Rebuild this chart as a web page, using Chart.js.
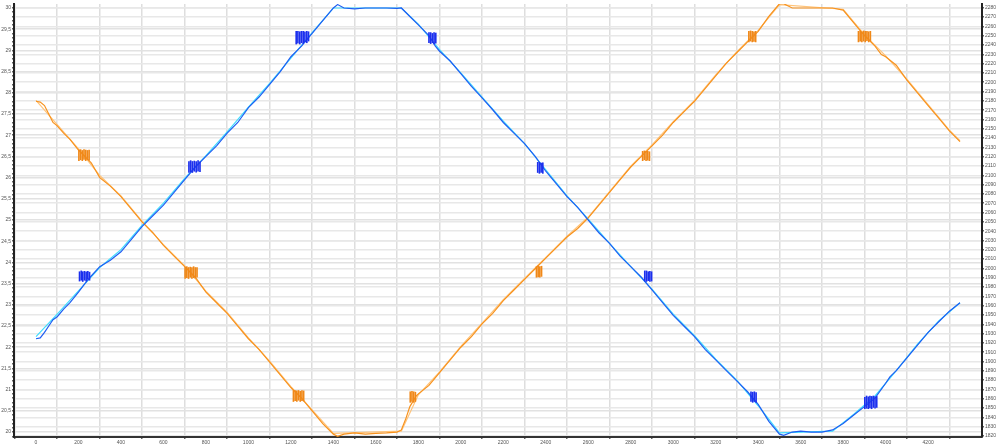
<!DOCTYPE html>
<html>
<head>
<meta charset="utf-8">
<script src="https://cdn.jsdelivr.net/npm/chart.js@4"></script>
<style>
  html, body { margin: 0; padding: 0; background: #fff; }
  #wrap { width: 999px; height: 448px; }
</style>
</head>
<body>
<div id="wrap"><canvas id="chart" width="999" height="448"></canvas></div>
<script>
// tick labels
const xTicks = [0, 200, 400, 600, 800, 1000, 1200, 1400, 1600, 1800, 2000, 2200, 2400, 2600, 2800, 3000, 3200, 3400, 3600, 3800, 4000, 4200];
const leftTicks = [20, 20.5, 21, 21.5, 22, 22.5, 23, 23.5, 24, 24.5, 25, 25.5, 26, 26.5, 27, 27.5, 28, 28.5, 29, 29.5, 30];
const rightTicks = [1820, 1830, 1840, 1850, 1860, 1870, 1880, 1890, 1900, 1910, 1920, 1930, 1940, 1950, 1960, 1970, 1980, 1990,
  2000, 2010, 2020, 2030, 2040, 2050, 2060, 2070, 2080, 2090, 2100, 2110, 2120, 2130, 2140, 2150, 2160, 2170, 2180, 2190,
  2200, 2210, 2220, 2230, 2240, 2250, 2260, 2270, 2280];

// blue series [x, value]
const blueLine = [
  [0, 22.2], [20, 22.22], [40, 22.35], [60, 22.5], [80, 22.65], [100, 22.72], [130, 22.9], [160, 23.05], [200, 23.3],
  [230, 23.5], [260, 23.68], [300, 23.9], [350, 24.05], [400, 24.25], [450, 24.55], [500, 24.85], [550, 25.1],
  [600, 25.35], [650, 25.65], [700, 25.95], [750, 26.25], [800, 26.5], [850, 26.75], [900, 27.05], [950, 27.3],
  [1000, 27.65], [1050, 27.9], [1100, 28.2], [1150, 28.5], [1200, 28.85], [1250, 29.1], [1300, 29.4], [1350, 29.7],
  [1400, 30.0], [1420, 30.08], [1450, 30.0], [1500, 29.98], [1550, 30.0], [1600, 30.0], [1650, 30.0], [1700, 29.99],
  [1720, 30.0], [1760, 29.8], [1800, 29.6], [1850, 29.35], [1880, 29.1], [1900, 28.98], [1950, 28.75], [2000, 28.45],
  [2050, 28.15], [2100, 27.88], [2150, 27.6], [2200, 27.3], [2250, 27.05], [2300, 26.8], [2350, 26.5], [2400, 26.15],
  [2450, 25.85], [2500, 25.55], [2550, 25.3], [2600, 25.0], [2650, 24.7], [2700, 24.45], [2750, 24.15], [2800, 23.9],
  [2850, 23.65], [2900, 23.35], [2950, 23.05], [3000, 22.75], [3050, 22.5], [3100, 22.25], [3150, 21.95], [3200, 21.7],
  [3250, 21.45], [3300, 21.2], [3350, 20.95], [3400, 20.65], [3450, 20.25], [3500, 19.95], [3520, 19.92], [3560, 20.0],
  [3600, 20.02], [3650, 20.0], [3700, 20.0], [3750, 20.05], [3800, 20.2], [3850, 20.4], [3900, 20.6], [3950, 20.8],
  [4000, 21.15], [4020, 21.3], [4050, 21.45], [4100, 21.75], [4150, 22.05], [4200, 22.35], [4250, 22.6], [4300, 22.85],
  [4350, 23.05]
];
const cyanLine = [
  [0, 22.25], [100, 22.78], [200, 23.33], [300, 23.88], [400, 24.3], [500, 24.88], [600, 25.4], [700, 25.98],
  [800, 26.52], [900, 27.08], [1000, 27.66], [1100, 28.22], [1200, 28.82], [1300, 29.42], [1400, 30.0], [1720, 30.0],
  [1800, 29.62], [1900, 29.02], [2000, 28.47], [2100, 27.9], [2200, 27.33], [2300, 26.8], [2400, 26.18], [2500, 25.57],
  [2600, 25.02], [2700, 24.45], [2800, 23.9], [2900, 23.37], [3000, 22.78], [3100, 22.27], [3200, 21.72], [3300, 21.22],
  [3400, 20.62], [3500, 19.98], [3750, 20.02], [3850, 20.42], [3950, 20.85], [4050, 21.45], [4150, 22.07], [4250, 22.62],
  [4350, 23.05]
];

// orange series [x, value]
const orangeLine = [
  [0, 27.8], [20, 27.78], [40, 27.7], [60, 27.5], [80, 27.3], [100, 27.22], [130, 27.05], [160, 26.9], [200, 26.65],
  [230, 26.5], [260, 26.35], [300, 26.0], [350, 25.8], [400, 25.55], [450, 25.25], [500, 24.95], [550, 24.7],
  [600, 24.4], [650, 24.15], [700, 23.9], [750, 23.65], [800, 23.3], [850, 23.05], [900, 22.8], [950, 22.5],
  [1000, 22.2], [1050, 21.95], [1100, 21.65], [1150, 21.35], [1200, 21.05], [1250, 20.8], [1300, 20.5], [1350, 20.2],
  [1400, 19.95], [1420, 19.9], [1450, 19.95], [1500, 19.98], [1550, 19.95], [1600, 19.97], [1650, 19.98], [1700, 20.0],
  [1720, 20.05], [1740, 20.3], [1760, 20.6], [1790, 20.85], [1800, 20.9], [1850, 21.1], [1900, 21.4], [1950, 21.7],
  [2000, 22.0], [2050, 22.25], [2100, 22.55], [2150, 22.8], [2200, 23.1], [2250, 23.35], [2300, 23.6], [2350, 23.85],
  [2400, 24.1], [2450, 24.35], [2500, 24.6], [2550, 24.8], [2600, 25.05], [2650, 25.35], [2700, 25.65], [2750, 25.95],
  [2800, 26.25], [2850, 26.5], [2900, 26.75], [2950, 27.0], [3000, 27.3], [3050, 27.55], [3100, 27.8], [3150, 28.1],
  [3200, 28.4], [3250, 28.7], [3300, 28.95], [3350, 29.2], [3400, 29.45], [3450, 29.8], [3500, 30.1], [3520, 30.1],
  [3560, 30.0], [3600, 30.0], [3650, 30.0], [3700, 30.0], [3750, 30.0], [3800, 29.95], [3850, 29.65], [3900, 29.35],
  [3950, 29.1], [3980, 28.9], [4000, 28.85], [4050, 28.65], [4100, 28.3], [4150, 28.0], [4200, 27.7], [4250, 27.4],
  [4300, 27.1], [4350, 26.85]
];
const lightOrangeLine = [
  [0, 27.82], [100, 27.25], [200, 26.68], [300, 26.05], [400, 25.57], [500, 24.97], [600, 24.42], [700, 23.92],
  [800, 23.32], [900, 22.82], [1000, 22.22], [1100, 21.67], [1200, 21.07], [1300, 20.52], [1400, 19.97], [1720, 20.02],
  [1800, 20.88], [1900, 21.42], [2000, 22.02], [2100, 22.57], [2200, 23.12], [2300, 23.62], [2400, 24.12], [2500, 24.62],
  [2600, 25.07], [2700, 25.67], [2800, 26.27], [2900, 26.77], [3000, 27.32], [3100, 27.82], [3200, 28.42], [3300, 28.97],
  [3400, 29.47], [3500, 30.08], [3800, 29.97], [3900, 29.37], [4000, 28.87], [4100, 28.32], [4200, 27.72], [4300, 27.12],
  [4350, 26.87]
];

// comb marks [x, low, high]
const blueComb = [
  [205, 23.56, 23.78], [213, 23.58, 23.8], [220, 23.55, 23.78], [228, 23.58, 23.79], [236, 23.56, 23.78], [244, 23.6, 23.79], [252, 23.58, 23.77],
  [720, 26.12, 26.38], [728, 26.14, 26.4], [736, 26.12, 26.38], [745, 26.15, 26.39], [754, 26.13, 26.38], [763, 26.15, 26.4], [772, 26.14, 26.37],
  [1225, 29.15, 29.45], [1233, 29.17, 29.45], [1242, 29.15, 29.44], [1250, 29.18, 29.45], [1258, 29.16, 29.45], [1266, 29.2, 29.44], [1275, 29.18, 29.45], [1283, 29.22, 29.44],
  [1850, 29.18, 29.42], [1858, 29.16, 29.42], [1866, 29.18, 29.4], [1874, 29.15, 29.42], [1882, 29.17, 29.41],
  [2362, 26.12, 26.36], [2370, 26.1, 26.36], [2378, 26.12, 26.34], [2386, 26.1, 26.35],
  [2866, 23.56, 23.8], [2874, 23.55, 23.8], [2882, 23.57, 23.78], [2890, 23.55, 23.79], [2898, 23.56, 23.78],
  [3366, 20.72, 20.95], [3374, 20.7, 20.94], [3382, 20.72, 20.95], [3390, 20.7, 20.93],
  [3902, 20.55, 20.82], [3910, 20.56, 20.85], [3918, 20.55, 20.83], [3926, 20.57, 20.85], [3934, 20.55, 20.84], [3942, 20.58, 20.85], [3950, 20.56, 20.83], [3958, 20.58, 20.84]
];
const orangeComb = [
  [202, 26.4, 26.65], [210, 26.42, 26.66], [218, 26.4, 26.64], [226, 26.43, 26.66], [234, 26.4, 26.65], [242, 26.42, 26.64], [250, 26.41, 26.65],
  [702, 23.62, 23.88], [710, 23.64, 23.9], [718, 23.62, 23.88], [726, 23.65, 23.89], [734, 23.62, 23.88], [742, 23.64, 23.9], [750, 23.63, 23.88], [758, 23.65, 23.88],
  [1212, 20.72, 20.98], [1220, 20.74, 20.98], [1228, 20.72, 20.97], [1236, 20.75, 20.98], [1244, 20.72, 20.96], [1252, 20.74, 20.98], [1260, 20.73, 20.97],
  [1762, 20.7, 20.95], [1770, 20.72, 20.96], [1778, 20.7, 20.95], [1786, 20.72, 20.94],
  [2356, 23.65, 23.9], [2364, 23.66, 23.92], [2372, 23.65, 23.9], [2380, 23.67, 23.91],
  [2856, 26.4, 26.62], [2864, 26.42, 26.63], [2872, 26.4, 26.62], [2880, 26.41, 26.62], [2888, 26.4, 26.61],
  [3356, 29.2, 29.45], [3364, 29.22, 29.46], [3372, 29.2, 29.45], [3380, 29.21, 29.44], [3388, 29.2, 29.45],
  [3872, 29.2, 29.45], [3880, 29.22, 29.46], [3888, 29.2, 29.44], [3896, 29.22, 29.46], [3904, 29.2, 29.45], [3912, 29.23, 29.45], [3920, 29.2, 29.44], [3928, 29.22, 29.45]
];

const pts = arr => arr.map(p => ({ x: p[0], y: p[1] }));
const bars = arr => arr.map(p => ({ x: p[0], y: [p[1], p[2]] }));

const lineStyle = { type: 'line', pointRadius: 0, tension: 0, yAxisID: 'y' };
const combStyle = { type: 'bar', barThickness: 1, grouped: false, borderWidth: 0, yAxisID: 'y', order: 0 };
const tickFont = { family: 'Liberation Sans', size: 5 };

new Chart(document.getElementById('chart'), {
  type: 'line',
  data: {
    datasets: [
      { ...lineStyle, data: pts(cyanLine), borderColor: '#3fdcff', borderWidth: 1.2, order: 3 },
      { ...lineStyle, data: pts(lightOrangeLine), borderColor: '#ffc47a', borderWidth: 1.2, order: 3 },
      { ...lineStyle, data: pts(blueLine), borderColor: '#1f5ef2', borderWidth: 1.2, order: 1 },
      { ...lineStyle, data: pts(orangeLine), borderColor: '#f7921e', borderWidth: 1.2, order: 1 },
      { ...combStyle, data: bars(blueComb), backgroundColor: '#1c30ee' },
      { ...combStyle, data: bars(orangeComb), backgroundColor: '#f08818' },
    ],
  },
  options: {
    responsive: false,
    animation: false,
    devicePixelRatio: 1,
    layout: { padding: { top: 2, left: 0, right: 0, bottom: 0 } },
    plugins: { legend: { display: false }, tooltip: { enabled: false } },
    scales: {
      x: {
        type: 'linear', min: 0, max: 4350,
        afterBuildTicks: s => { s.ticks = xTicks.map(v => ({ value: v })); },
        afterFit: s => { s.height = 11; },
        ticks: { autoSkip: false, maxRotation: 0, padding: 1, color: '#555', font: tickFont, callback: v => String(v) },
        grid: { color: '#dedede', lineWidth: 1.5, tickLength: 2, tickColor: '#666' },
        border: { color: '#333', width: 2 },
      },
      y: {
        type: 'linear', position: 'left', min: 19.883, max: 30.094,
        afterBuildTicks: s => {
          const t = [];
          for (let i = 199; i <= 300; i++) t.push({ value: i / 10 });
          s.ticks = t;
        },
        afterFit: s => { s.width = 14; },
        ticks: {
          autoSkip: false, padding: 1, color: '#555', font: tickFont,
          callback: v => leftTicks.includes(v) ? String(v).replace('.', ',') : '',
        },
        grid: {
          color: c => leftTicks.includes(c.tick.value) ? '#e2e2e2' : 'rgba(0,0,0,0)',
          lineWidth: 1.5, tickLength: 2, tickColor: '#666',
        },
        border: { color: '#222', width: 2 },
      },
      y2: {
        type: 'linear', position: 'right', min: 1818.9, max: 2284,
        afterBuildTicks: s => { s.ticks = rightTicks.map(v => ({ value: v })); },
        afterFit: s => { s.width = 17; },
        ticks: { autoSkip: false, padding: 1, color: '#555', font: tickFont, callback: v => String(v) },
        grid: { color: '#e8e8e8', lineWidth: 1.5, tickLength: 2, tickColor: '#666' },
        border: { color: '#222', width: 2 },
      },
    },
  },
});
</script>
</body>
</html>
